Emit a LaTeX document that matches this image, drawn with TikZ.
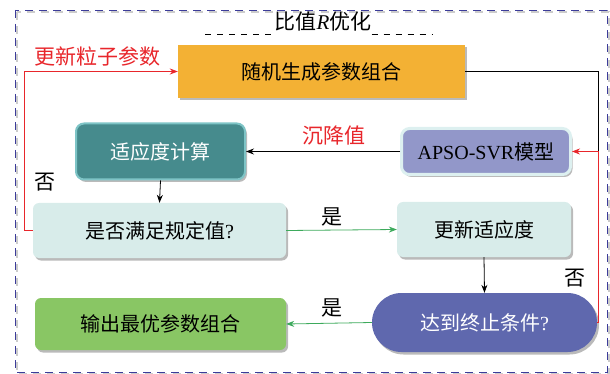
\documentclass[tikz,border=0pt]{standalone}
\usepackage{fontspec}
\setmainfont{Liberation Serif}
\newfontfamily\cjk{Noto Sans CJK SC}
\usetikzlibrary{arrows.meta,shadows,positioning}
\definecolor{cOrange}{HTML}{F3B134}
\definecolor{cTeal}{HTML}{468B8D}
\definecolor{cTealB}{HTML}{7EC4C6}
\definecolor{cLav}{HTML}{9297C9}
\definecolor{cLavB}{HTML}{DDF0F0}
\definecolor{cCyan}{HTML}{D8ECEA}
\definecolor{cStad}{HTML}{5F68AE}
\definecolor{cGreen}{HTML}{89C664}
\definecolor{cFrame}{HTML}{3C3C9A}
\definecolor{cRed}{HTML}{E8262B}
\definecolor{cGArrow}{HTML}{3DAA5C}
\tikzset{
  box/.style={rectangle, inner sep=0pt, font=\cjk\fontsize{20}{24}\selectfont,
    drop shadow={shadow xshift=2pt, shadow yshift=-2.5pt, opacity=0.45, fill=black!60}},
  lbl/.style={inner sep=0pt, font=\cjk\fontsize{21}{24}\selectfont},
  arr/.style={-{Stealth[length=8pt,width=6pt]}, line width=0.8pt},
}
\begin{document}
\begin{tikzpicture}[x=1pt,y=-1pt]
\useasboundingbox (0,0) rectangle (610,374);
% outer frame
\draw[gray!40, line width=2pt, dash pattern=on 8pt off 6pt] (17,12) rectangle (609,374);
\draw[cFrame, line width=0.9pt, dash pattern=on 8pt off 6pt] (15,10) rectangle (607,372);
% title
\node[lbl] (title) at (323,22) {比值\rmfamily\textit{R}\cjk 优化};
\draw[line width=0.8pt, dash pattern=on 6pt off 6pt] (205,34) -- (title.west |- 0,34);
\draw[line width=0.8pt, dash pattern=on 6pt off 6pt] (title.east |- 0,34) -- (432,34);
% nodes
\node[box, fill=cOrange, minimum width=287pt, minimum height=53pt] (orange) at (321.5,71.5) {随机生成参数组合};
\node[box, fill=cTeal, draw=cTealB, line width=2pt, rounded corners=8pt, minimum width=169pt, minimum height=56pt, text=white] (teal) at (160.5,151.5) {适应度计算};
\node[box, fill=cLav, draw=cLavB, line width=3pt, rounded corners=8pt, minimum width=169pt, minimum height=46pt] (apso) at (486,151.5) {\rmfamily APSO-SVR\cjk 模型};
\node[box, fill=cCyan, rounded corners=6pt, minimum width=253pt, minimum height=55pt] (q) at (159.5,230.5) {是否满足规定值\rmfamily ?};
\node[box, fill=cCyan, rounded corners=6pt, minimum width=174pt, minimum height=55pt] (upd) at (484,229.5) {更新适应度};
\node[box, fill=cStad, rounded corners=29.5pt, minimum width=225pt, minimum height=59pt, text=white] (stad) at (484.5,322.5) {达到终止条件\rmfamily ?};
\node[box, fill=cGreen, rounded corners=6pt, minimum width=251pt, minimum height=52pt] (out) at (160.5,324) {输出最优参数组合};
\coordinate (cR) at (598,151.5);
% connectors
\draw[arr, cRed] (q.west) -- ++(-8,0) |- (orange.west);
\node[lbl, text=cRed] (l1) at (97,57) {更新粒子参数};
\draw[line width=0.8pt] (orange.east) -| (cR);
\draw[arr, cRed] (stad.east) -| (cR) -- (apso.east);
\draw[arr] (apso.west) -- (teal.east);
\node[lbl, text=cRed] (l2) at (334,136) {沉降值};
\draw[arr] (teal.south) -- (q.north);
\draw[arr, cGArrow] (q.east) -- (upd.west);
\node[lbl] (l3) at (332,217) {是};
\draw[arr] (upd.south) -- (stad.north);
\draw[arr, cGArrow] (stad.west) -- (out.east);
\node[lbl] (l4) at (332,308) {是};
\node[lbl] (l5) at (45,182) {否};
\node[lbl] (l6) at (575,278) {否};
\end{tikzpicture}
\end{document}
